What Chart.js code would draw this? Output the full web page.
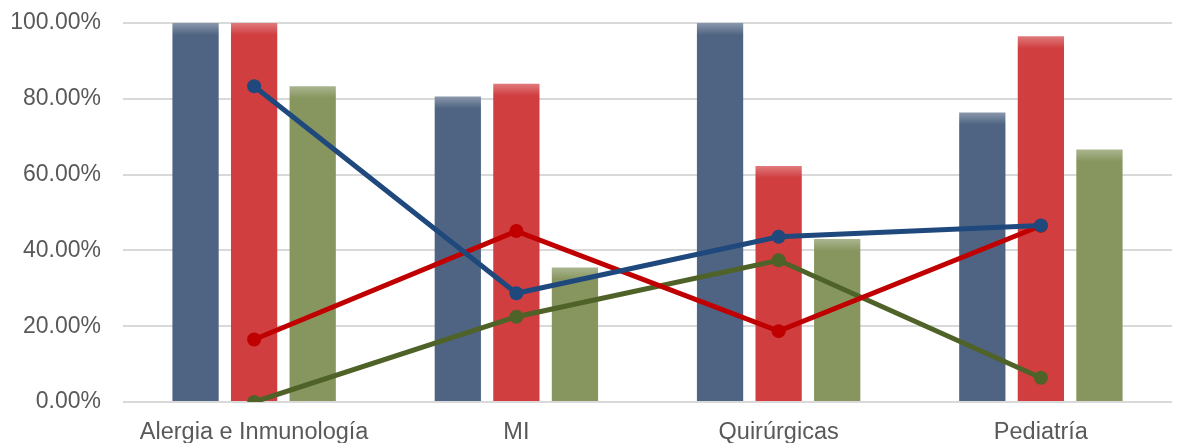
<!DOCTYPE html>
<html>
<head>
<meta charset="utf-8">
<script src="https://cdn.jsdelivr.net/npm/chart.js@4"></script>
<style>
  html, body { margin: 0; padding: 0; background: #fff; }
  #chart { display: block; }
</style>
</head>
<body>
<canvas id="chart" width="1179" height="443"></canvas>
<script>
const categories = ['Alergia e Inmunología', 'MI', 'Quirúrgicas', 'Pediatría'];
const barSerie1 = [100, 80.6, 100, 76.4];
const barSerie2 = [100, 84.0, 62.3, 96.5];
const barSerie3 = [83.33, 35.5, 43.0, 66.6];
const lineSerie1 = [83.33, 28.7, 43.6, 46.6];
const lineSerie2 = [16.5, 45.1, 18.7, 46.5];
const lineSerie3 = [0, 22.5, 37.4, 6.4];
const yTicks = [0, 20, 40, 60, 80, 100];

// bars get a lighter band at the top, like the original
function barFill(base, light) {
  return (ctx) => {
    const chart = ctx.chart;
    if (!chart.chartArea || ctx.raw == null) return base;
    const top = chart.scales.y.getPixelForValue(ctx.raw);
    const g = chart.ctx.createLinearGradient(0, top, 0, top + 12);
    g.addColorStop(0, light);
    g.addColorStop(1, base);
    return g;
  };
}

function bar(label, data, base, light) {
  return {
    type: 'bar', label, data, order: 2,
    backgroundColor: barFill(base, light),
    borderWidth: 0,
    categoryPercentage: 0.67,
    barPercentage: 0.79
  };
}

function line(label, data, color) {
  return {
    type: 'line', label, data, order: 1,
    borderColor: color, backgroundColor: color,
    borderWidth: 5, pointRadius: 7, pointHoverRadius: 7,
    pointBorderWidth: 0, tension: 0
  };
}

new Chart(document.getElementById('chart'), {
  data: {
    labels: categories,
    datasets: [
      line('Serie 4', lineSerie1, '#1f497d'),
      line('Serie 5', lineSerie2, '#c00000'),
      line('Serie 6', lineSerie3, '#4f6228'),
      bar('Serie 1', barSerie1, '#4f6482', '#8a98ab'),
      bar('Serie 2', barSerie2, '#d03e40', '#e07a7c'),
      bar('Serie 3', barSerie3, '#87965f', '#aab58f')
    ]
  },
  options: {
    responsive: false,
    animation: false,
    layout: { padding: { left: 0, right: 6, top: 23, bottom: 0 } },
    plugins: {
      legend: { display: false },
      tooltip: { enabled: false }
    },
    scales: {
      x: {
        grid: { display: false },
        border: { display: false },
        afterFit: (s) => { s.height = 41; s.paddingLeft = 0; s.paddingRight = 0; },
        ticks: {
          color: '#595959',
          padding: 8,
          maxRotation: 0,
          font: { family: 'Liberation Sans', size: 23.5 }
        }
      },
      y: {
        min: 0, max: 100,
        afterBuildTicks: (axis) => { axis.ticks = yTicks.map(v => ({ value: v })); },
        afterFit: (s) => { s.width = 123; s.paddingTop = 0; s.paddingBottom = 0; },
        grid: { color: '#d9d9d9', lineWidth: 2, drawTicks: false },
        border: { display: false },
        ticks: {
          color: '#595959',
          padding: 22,
          font: { family: 'Liberation Sans', size: 23 },
          callback: (v) => v.toFixed(2) + '%'
        }
      }
    }
  }
});
</script>
</body>
</html>
